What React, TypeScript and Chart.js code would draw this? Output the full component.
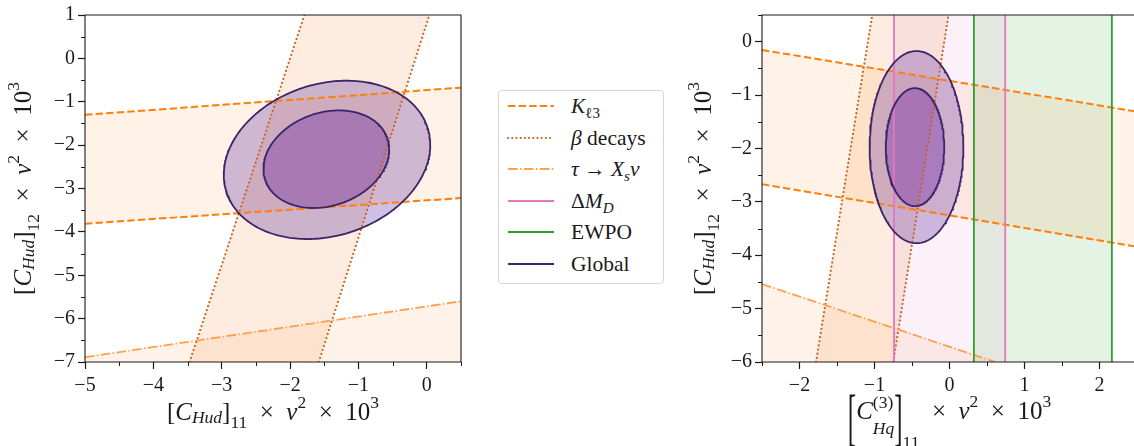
import React, { useEffect, useRef } from "react";
import { Chart, registerables } from "chart.js";

Chart.register(...registerables);

type P = [number, number];
type Seg = { t?: string; i?: boolean; s?: number; dy?: number; sy?: number; stack?: boolean; g?: number };

// ---------------- Left panel data ----------------
const L_X_RANGE = [-5, 0.5];
const L_Y_RANGE = [-7, 1];
const L_X_TICKS = [-5, -4, -3, -2, -1, 0];
const L_Y_TICKS = [-7, -6, -5, -4, -3, -2, -1, 0, 1];
const L_X_MINOR = [-4.5, -3.5, -2.5, -1.5, -0.5, 0.5];
const L_Y_MINOR = [-6.5, -5.5, -4.5, -3.5, -2.5, -1.5, -0.5, 0.5];
const L_KL3_UPPER: P[] = [[-5, -1.3], [0.5, -0.675]];
const L_KL3_LOWER: P[] = [[-5, -3.81], [0.5, -3.22]];
const L_BETA_LEFT: P[] = [[-3.47, -7], [-1.79, 1]];
const L_BETA_RIGHT: P[] = [[-1.58, -7], [0.036, 1]];
const L_TAU_LINE: P[] = [[-5, -6.89], [0.5, -5.6]];
// global contours: [centre x, centre y, half width x, half height y, correlation]
const L_GLOBAL_OUTER = [-1.46, -2.34, 1.51, 1.825, 0.19];
const L_GLOBAL_INNER = [-1.47, -2.325, 0.92, 1.125, 0.2];

// ---------------- Right panel data ----------------
const R_X_RANGE = [-2.5, 2.5];
const R_Y_RANGE = [-6, 0.5];
const R_X_TICKS = [-2, -1, 0, 1, 2];
const R_Y_TICKS = [-6, -5, -4, -3, -2, -1, 0];
const R_X_MINOR = [-2.5, -1.5, -0.5, 0.5, 1.5];
const R_Y_MINOR = [-5.5, -4.5, -3.5, -2.5, -1.5, -0.5, 0.5];
const R_KL3_UPPER: P[] = [[-2.5, -0.155], [2.5, -1.31]];
const R_KL3_LOWER: P[] = [[-2.5, -2.67], [2.5, -3.84]];
const R_BETA_LEFT: P[] = [[-1.78, -6], [-1.03, 0.5]];
const R_BETA_RIGHT: P[] = [[-0.75, -6], [-0.013, 0.5]];
const R_TAU_LINE: P[] = [[-2.5, -4.54], [0.61, -6]];
const R_DMD_BOUNDS = [-0.74, 0.743];
const R_EWPO_BOUNDS = [0.325, 2.165];
const R_GLOBAL_OUTER = [-0.44, -1.975, 0.625, 1.8, 0];
const R_GLOBAL_INNER = [-0.46, -1.975, 0.39, 1.105, 0];

// ---------------- Text ----------------
const X_TITLE_LEFT: Seg[] = [
  { t: "[" }, { t: "C", i: true }, { t: "Hud", i: true, s: 0.7, dy: 0.1 }, { t: "]" },
  { t: "11", s: 0.7, dy: 0.3 }, { g: 0.5 }, { t: "×" }, { g: 0.5 }, { t: "v", i: true },
  { t: "2", s: 0.7, dy: -0.5 }, { g: 0.5 }, { t: "×" }, { g: 0.5 }, { t: "10" }, { t: "3", s: 0.7, dy: -0.5 },
];
const Y_TITLE: Seg[] = [
  { t: "[" }, { t: "C", i: true }, { t: "Hud", i: true, s: 0.7, dy: 0.1 }, { t: "]" },
  { t: "12", s: 0.7, dy: 0.3 }, { g: 0.5 }, { t: "×" }, { g: 0.5 }, { t: "v", i: true },
  { t: "2", s: 0.7, dy: -0.5 }, { g: 0.5 }, { t: "×" }, { g: 0.5 }, { t: "10" }, { t: "3", s: 0.7, dy: -0.5 },
];
const X_TITLE_RIGHT: Seg[] = [
  { t: "[", sy: 2.5, dy: 0.75 }, { t: "C", i: true }, { t: "(3)", s: 0.7, dy: -0.45, stack: true },
  { t: "Hq", i: true, s: 0.7, dy: 0.6 }, { t: "]", sy: 2.5, dy: 0.75 }, { t: "11", s: 0.7, dy: 1.15 },
  { g: 0.5 }, { t: "×" }, { g: 0.5 }, { t: "v", i: true }, { t: "2", s: 0.7, dy: -0.5 },
  { g: 0.5 }, { t: "×" }, { g: 0.5 }, { t: "10" }, { t: "3", s: 0.7, dy: -0.5 },
];

const LEGEND_LABELS: Seg[][] = [
  [{ t: "K", i: true }, { t: "ℓ3", i: false, s: 0.7, dy: 0.25 }],
  [{ t: "β", i: true }, { t: " decays" }],
  [{ t: "τ", i: true }, { t: " → " }, { t: "X", i: true }, { t: "s", i: true, s: 0.7, dy: 0.25 }, { t: "ν", i: true }],
  [{ t: "Δ" }, { t: "M", i: true }, { t: "D", i: true, s: 0.7, dy: 0.25 }],
  [{ t: "EWPO" }],
  [{ t: "Global" }],
];

// ---------------- Styles ----------------
const FONT = '"Liberation Serif", "DejaVu Serif", serif';
const TEXT_COLOR = "#1a1a1a";
const AXIS_COLOR = "#1a1a1a";
const K_COLOR = "#ff7f0e";
const BETA_COLOR = "#c8621c";
const TAU_COLOR = "#ffa04d";
const DMD_COLOR = "#e377c2";
const EWPO_COLOR = "#2ca02c";
const GLOBAL_COLOR = "#3c2468";
const K_FILL = "rgba(255,127,14,0.1)";
const BETA_FILL = "rgba(240,120,30,0.14)";
const TAU_FILL = "rgba(255,160,77,0.12)";
const DMD_FILL = "rgba(227,119,194,0.1)";
const EWPO_FILL = "rgba(44,160,44,0.12)";
const GLOBAL_OUTER_FILL = "rgba(95,45,162,0.3)";
const GLOBAL_INNER_FILL = "rgba(118,52,170,0.42)";
const DASH = [7.4, 3.2];
const DOT = [0.1, 4.1];
const DASHDOT = [9.6, 2.4, 1.5, 2.4];

const LEGEND_STYLES = [
  { color: K_COLOR, dash: "7.4 3.2", cap: "butt", w: 2 },
  { color: BETA_COLOR, dash: "0.1 4.1", cap: "round", w: 2.1 },
  { color: TAU_COLOR, dash: "9.6 2.4 1.5 2.4", cap: "butt", w: 1.8 },
  { color: DMD_COLOR, dash: "", cap: "butt", w: 2 },
  { color: EWPO_COLOR, dash: "", cap: "butt", w: 2 },
  { color: GLOBAL_COLOR, dash: "", cap: "butt", w: 2 },
];

const TICK_SIZE = 20;
const TITLE_SIZE = 25;

// ---------------- helpers ----------------
const toXY = (pts: P[]) => pts.map(([x, y]) => ({ x, y }));
const area = (pts: P[], bg: string) => ({
  data: toXY(pts), fill: "shape", backgroundColor: bg, borderColor: "rgba(0,0,0,0)",
  borderWidth: 0, pointRadius: 0, clip: 0, tension: 0,
});
const stroke = (pts: P[], color: string, width: number, dash: number[] = [], cap = "butt") => ({
  data: toXY(pts), fill: false, borderColor: color, borderWidth: width, borderDash: dash,
  borderCapStyle: cap, pointRadius: 0, clip: 0, tension: 0,
});
const band = (a: P[], b: P[]): P[] => [a[0], a[1], b[1], b[0], a[0]];
const below = (l: P[], yMin: number): P[] => [l[0], l[1], [l[1][0], yMin - 1], [l[0][0], yMin - 1], l[0]];
const vband = (x0: number, x1: number, yr: number[]): P[] => [[x0, yr[0]], [x0, yr[1]], [x1, yr[1]], [x1, yr[0]], [x0, yr[0]]];
const vline = (x: number, yr: number[]): P[] => [[x, yr[0]], [x, yr[1]]];
const ellipse = (e: number[], n = 240): P[] => {
  const [cx, cy, ax, by, rho] = e;
  const phi = Math.acos(rho);
  const pts: P[] = [];
  for (let k = 0; k <= n; k++) {
    const t = (2 * Math.PI * k) / n;
    pts.push([cx + ax * Math.cos(t), cy + by * Math.cos(t - phi)]);
  }
  return pts;
};

const segFont = (s: Seg, base: number) => `${s.i ? "italic " : ""}${(base * (s.s ?? 1)).toFixed(2)}px ${FONT}`;

function richWidth(ctx: CanvasRenderingContext2D, segs: Seg[], base: number) {
  let w = 0, pending = 0;
  for (const s of segs) {
    if (s.g) { w += s.g * base; continue; }
    ctx.font = segFont(s, base);
    const m = ctx.measureText(s.t || "").width;
    if (s.stack) { pending = m; continue; }
    w += Math.max(m, pending);
    pending = 0;
  }
  return w;
}

function drawRich(ctx: CanvasRenderingContext2D, segs: Seg[], base: number, cx: number, by: number) {
  let x = cx - richWidth(ctx, segs, base) / 2;
  let pending = 0;
  ctx.textBaseline = "alphabetic";
  ctx.textAlign = "left";
  for (const s of segs) {
    if (s.g) { x += s.g * base; continue; }
    ctx.font = segFont(s, base);
    const m = ctx.measureText(s.t || "").width;
    const y = by + (s.dy ?? 0) * base;
    if (s.sy) {
      ctx.save();
      ctx.translate(x, y);
      ctx.scale(1, s.sy);
      ctx.fillText(s.t || "", 0, 0);
      ctx.restore();
    } else {
      ctx.fillText(s.t || "", x, y);
    }
    if (s.stack) { pending = m; continue; }
    x += Math.max(m, pending);
    pending = 0;
  }
}

const fmt = (v: number) => (v < 0 ? "\u2212" + Math.abs(v) : String(v));

interface PanelSpec {
  xRange: number[]; yRange: number[]; xTicks: number[]; yTicks: number[];
  xMinor: number[]; yMinor: number[]; datasets: any[];
  xTitle: Seg[]; yTitle: Seg[]; axisWidth: number; padRight: number;
  xTitleBaseline: number; yTitleBaseline: number;
}

function decorPlugin(spec: PanelSpec) {
  return {
    id: "decor",
    afterDraw(chart: any) {
      const { ctx, chartArea: a } = chart;
      const xs = chart.scales.x, ys = chart.scales.y;
      ctx.save();
      ctx.strokeStyle = AXIS_COLOR;
      ctx.lineWidth = 1.1;
      ctx.beginPath();
      ctx.rect(a.left, a.top, a.right - a.left, a.bottom - a.top);
      ctx.stroke();
      ctx.lineWidth = 1;
      ctx.beginPath();
      spec.xMinor.forEach((v) => {
        const px = Math.round(xs.getPixelForValue(v)) + 0.5;
        ctx.moveTo(px, a.bottom); ctx.lineTo(px, a.bottom + 4);
      });
      spec.yMinor.forEach((v) => {
        const py = Math.round(ys.getPixelForValue(v)) + 0.5;
        ctx.moveTo(a.left - 4, py); ctx.lineTo(a.left, py);
      });
      ctx.stroke();
      ctx.fillStyle = TEXT_COLOR;
      drawRich(ctx, spec.xTitle, TITLE_SIZE, (a.left + a.right) / 2, spec.xTitleBaseline);
      ctx.translate(spec.yTitleBaseline, (a.top + a.bottom) / 2);
      ctx.rotate(-Math.PI / 2);
      drawRich(ctx, spec.yTitle, TITLE_SIZE, 0, 0);
      ctx.restore();
    },
  };
}

function makeChart(canvas: HTMLCanvasElement, spec: PanelSpec) {
  const tickFont = { family: FONT, size: TICK_SIZE };
  const grid = { display: true, drawOnChartArea: false, drawTicks: true, tickLength: 7, tickWidth: 1.2, tickColor: AXIS_COLOR };
  const datasets = spec.datasets.map((d, i) => ({ ...d, order: 1000 - i }));
  return new Chart(canvas, {
    type: "line",
    data: { datasets },
    options: {
      responsive: false,
      animation: false,
      events: [],
      layout: { padding: { top: 13, right: spec.padRight, left: 0, bottom: 0 } },
      plugins: { legend: { display: false }, tooltip: { enabled: false }, title: { display: false } },
      scales: {
        x: {
          type: "linear", min: spec.xRange[0], max: spec.xRange[1],
          afterBuildTicks: (s: any) => { s.ticks = spec.xTicks.map((v) => ({ value: v })); },
          afterFit: (s: any) => { s.height = 446 - 362; },
          grid, border: { display: false },
          ticks: { callback: (v: any) => fmt(Number(v)), font: tickFont, color: TEXT_COLOR, padding: 5, maxRotation: 0, autoSkip: false },
        },
        y: {
          type: "linear", min: spec.yRange[0], max: spec.yRange[1],
          afterBuildTicks: (s: any) => { s.ticks = spec.yTicks.map((v) => ({ value: v })); },
          afterFit: (s: any) => { s.width = spec.axisWidth; },
          grid, border: { display: false },
          ticks: { callback: (v: any) => fmt(Number(v)), font: tickFont, color: TEXT_COLOR, padding: 3, autoSkip: false },
        },
      },
    } as any,
    plugins: [decorPlugin(spec)],
  });
}

function leftSpec(): PanelSpec {
  const yMin = L_Y_RANGE[0];
  return {
    xRange: L_X_RANGE, yRange: L_Y_RANGE, xTicks: L_X_TICKS, yTicks: L_Y_TICKS,
    xMinor: L_X_MINOR, yMinor: L_Y_MINOR,
    datasets: [
      area(band(L_KL3_UPPER, L_KL3_LOWER), K_FILL),
      area(band(L_BETA_LEFT, L_BETA_RIGHT), BETA_FILL),
      area(below(L_TAU_LINE, yMin), TAU_FILL),
      area(ellipse(L_GLOBAL_OUTER), GLOBAL_OUTER_FILL),
      area(ellipse(L_GLOBAL_INNER), GLOBAL_INNER_FILL),
      stroke(L_KL3_UPPER, K_COLOR, 2, DASH),
      stroke(L_KL3_LOWER, K_COLOR, 2, DASH),
      stroke(L_BETA_LEFT, BETA_COLOR, 2.1, DOT, "round"),
      stroke(L_BETA_RIGHT, BETA_COLOR, 2.1, DOT, "round"),
      stroke(L_TAU_LINE, TAU_COLOR, 1.8, DASHDOT),
      stroke(ellipse(L_GLOBAL_OUTER), GLOBAL_COLOR, 1.8),
      stroke(ellipse(L_GLOBAL_INNER), GLOBAL_COLOR, 1.8),
    ],
    xTitle: X_TITLE_LEFT, yTitle: Y_TITLE, axisWidth: 85, padRight: 19,
    xTitleBaseline: 420, yTitleBaseline: 31,
  };
}

function rightSpec(): PanelSpec {
  const yMin = R_Y_RANGE[0];
  return {
    xRange: R_X_RANGE, yRange: R_Y_RANGE, xTicks: R_X_TICKS, yTicks: R_Y_TICKS,
    xMinor: R_X_MINOR, yMinor: R_Y_MINOR,
    datasets: [
      area(band(R_KL3_UPPER, R_KL3_LOWER), K_FILL),
      area(band(R_BETA_LEFT, R_BETA_RIGHT), BETA_FILL),
      area(below(R_TAU_LINE, yMin), TAU_FILL),
      area(vband(R_DMD_BOUNDS[0], R_DMD_BOUNDS[1], R_Y_RANGE), DMD_FILL),
      area(vband(R_EWPO_BOUNDS[0], R_EWPO_BOUNDS[1], R_Y_RANGE), EWPO_FILL),
      area(ellipse(R_GLOBAL_OUTER), GLOBAL_OUTER_FILL),
      area(ellipse(R_GLOBAL_INNER), GLOBAL_INNER_FILL),
      stroke(R_KL3_UPPER, K_COLOR, 2, DASH),
      stroke(R_KL3_LOWER, K_COLOR, 2, DASH),
      stroke(R_BETA_LEFT, BETA_COLOR, 2.1, DOT, "round"),
      stroke(R_BETA_RIGHT, BETA_COLOR, 2.1, DOT, "round"),
      stroke(R_TAU_LINE, TAU_COLOR, 1.8, DASHDOT),
      stroke(vline(R_DMD_BOUNDS[0], R_Y_RANGE), DMD_COLOR, 1.8),
      stroke(vline(R_DMD_BOUNDS[1], R_Y_RANGE), DMD_COLOR, 1.8),
      stroke(vline(R_EWPO_BOUNDS[0], R_Y_RANGE), EWPO_COLOR, 1.8),
      stroke(vline(R_EWPO_BOUNDS[1], R_Y_RANGE), EWPO_COLOR, 1.8),
      stroke(ellipse(R_GLOBAL_OUTER), GLOBAL_COLOR, 1.8),
      stroke(ellipse(R_GLOBAL_INNER), GLOBAL_COLOR, 1.8),
    ],
    xTitle: X_TITLE_RIGHT, yTitle: Y_TITLE, axisWidth: 82, padRight: 23,
    xTitleBaseline: 419, yTitleBaseline: 31,
  };
}

function RichSpan({ segs, base }: { segs: Seg[]; base: number }) {
  return (
    <span>
      {segs.map((s, i) => (
        <span
          key={i}
          style={{
            fontStyle: s.i ? "italic" : "normal",
            fontSize: (s.s ?? 1) * base,
            position: "relative",
            top: (s.dy ?? 0) * base,
            whiteSpace: "pre",
          }}
        >
          {s.t}
        </span>
      ))}
    </span>
  );
}

export default function App() {
  const leftRef = useRef<HTMLCanvasElement | null>(null);
  const rightRef = useRef<HTMLCanvasElement | null>(null);

  useEffect(() => {
    const c1 = makeChart(leftRef.current!, leftSpec());
    const c2 = makeChart(rightRef.current!, rightSpec());
    return () => { c1.destroy(); c2.destroy(); };
  }, []);

  const rowCenters = [16, 47.5, 79, 110.5, 142, 173.5];

  return (
    <div style={{ position: "absolute", left: 0, top: 0, width: 1134, height: 446, overflow: "hidden", background: "#fff" }}>
      <canvas ref={leftRef} width={480} height={446} style={{ position: "absolute", left: 0, top: 0, width: 480, height: 446 }} />
      <canvas ref={rightRef} width={480} height={446} style={{ position: "absolute", left: 680, top: 0, width: 480, height: 446 }} />
      <div
        style={{
          position: "absolute", left: 498, top: 90, width: 166, height: 194, boxSizing: "border-box",
          border: "1px solid #d6d6d6", borderRadius: 4, background: "#fff", fontFamily: FONT, color: TEXT_COLOR,
        }}
      >
        {LEGEND_LABELS.map((segs, i) => {
          const st = LEGEND_STYLES[i];
          const cy = rowCenters[i] - 1;
          return (
            <div key={i} style={{ position: "absolute", left: 0, top: cy - 15, height: 30, width: 164 }}>
              <svg width={48} height={8} style={{ position: "absolute", left: 7.7, top: 11 }}>
                <line x1={1} y1={4} x2={47} y2={4} stroke={st.color} strokeWidth={st.w} strokeDasharray={st.dash || undefined} strokeLinecap={st.cap as any} />
              </svg>
              <div style={{ position: "absolute", left: 72, top: 0, height: 30, lineHeight: "30px", fontSize: 21.5, whiteSpace: "nowrap" }}>
                <RichSpan segs={segs} base={21.5} />
              </div>
            </div>
          );
        })}
      </div>
    </div>
  );
}
